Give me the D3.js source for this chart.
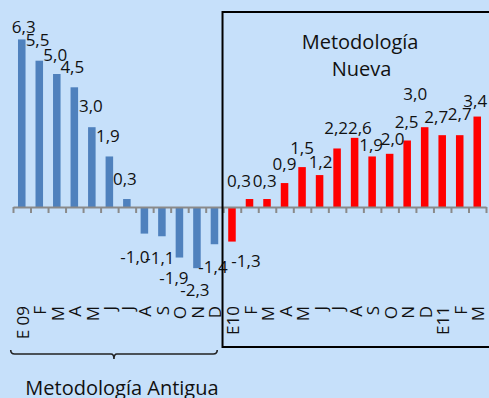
<!DOCTYPE html>
<html>
<head>
<meta charset="utf-8">
<script src="https://cdn.jsdelivr.net/npm/d3@7/dist/d3.min.js"></script>
<style>
  html, body { margin: 0; padding: 0; background: #c6e0fa; }
  svg { display: block; }
  text { font-family: "Open Sans", "Noto Sans", sans-serif; fill: #111; }
</style>
</head>
<body>
<svg id="chart" width="489" height="398"></svg>
<script>
// Monthly categories: Jan 2009 .. Mar 2011
const months = ["E 09","F","M","A","M","J","J","A","S","O","N","D",
                "E10","F","M","A","M","J","J","A","S","O","N","D",
                "E11","F","M"];
// Old methodology (2009)
const oldValues = [6.3, 5.5, 5.0, 4.5, 3.0, 1.9, 0.3, -1.0, -1.1, -1.9, -2.3, -1.4];
// New methodology (2010 - 2011)
const newValues = [-1.3, 0.3, 0.3, 0.9, 1.5, 1.2, 2.2, 2.6, 1.9, 2.0, 2.5, 3.0, 2.7, 2.7, 3.4];

const oldTitle = "Metodología Antigua";
const newTitle = ["Metodología", "Nueva"];

// Hand-placed nudges for the value labels [dx, dy], relative to the bar end
const labelNudge = [
  [2, -6], [-1.7, -14.6], [-1.5, -13.3], [-2, -14.6], [-1, -15], [-1.5, -14], [-2, -14],
  [-9.5, 29.7], [-2, 27.3], [-5.5, 26.7], [-2, 28.3], [-1.5, 28.4],
  [14, 25.7], [-10.5, -12.3], [-2.3, -12.3], [0, -13.4], [0, -13.4], [1, -7.4],
  [-1, -14], [5.3, -4], [-1, -5], [3, -9.3], [-0.5, -12.7], [-9.4, -27],
  [-6, -12.3], [0, -15], [-2, -10]
];

const rows = [
  ...oldValues.map(v => ({ v, series: "old" })),
  ...newValues.map(v => ({ v, series: "new" }))
].map((d, i) => ({ ...d, i, month: months[i] }));

const colors = { old: "#4f81bd", new: "#ff0000" };

const svg = d3.select("#chart");

const x = d3.scaleBand()
  .domain(rows.map(d => d.i))
  .range([13, 486])
  .paddingInner(0.57)
  .paddingOuter(0.285);

// Tick positions sit on the category boundaries
const xEdge = d3.scaleLinear().domain([0, rows.length]).range([13, 486]);

const y = d3.scaleLinear().domain([-4, 7.5]).range([313.4, 7.5]);

// Spanish number style: decimal comma, plain hyphen for negatives
const fmt = d3.formatLocale({
  decimal: ",", thousands: ".", grouping: [3], currency: ["", "€"], minus: "-"
}).format(".1f");

// Bars
svg.append("g")
  .selectAll("rect")
  .data(rows)
  .join("rect")
  .attr("x", d => x(d.i))
  .attr("width", x.bandwidth())
  .attr("y", d => y(Math.max(0, d.v)))
  .attr("height", d => Math.abs(y(d.v) - y(0)))
  .attr("fill", d => colors[d.series]);

// Horizontal axis line with tick marks
const axisG = svg.append("g")
  .attr("transform", `translate(0,${y(0)})`)
  .call(d3.axisBottom(xEdge).tickValues(d3.range(rows.length + 1))
    .tickSize(6).tickSizeOuter(0).tickFormat(""));
axisG.select(".domain").attr("stroke", "#8a8a8a").attr("stroke-width", 2);
axisG.selectAll(".tick line").attr("stroke", "#8a8a8a").attr("stroke-width", 2);

// Category labels, rotated
const labelG = svg.append("g")
  .attr("transform", `translate(0,${y(0)})`)
  .call(d3.axisBottom(x).tickSize(0).tickFormat(i => months[i]));
labelG.select(".domain").remove();
labelG.selectAll(".tick text")
  .attr("transform", "rotate(-90)")
  .attr("x", -99)
  .attr("y", 7)
  .attr("dy", 0)
  .attr("text-anchor", "end")
  .style("font-family", "'Open Sans', sans-serif")
  .style("font-size", "17px")
  .attr("fill", "#111");

// Value labels
svg.append("g")
  .selectAll("text")
  .data(rows)
  .join("text")
  .attr("x", d => x(d.i) + x.bandwidth() / 2 + labelNudge[d.i][0])
  .attr("y", d => y(d.v) + labelNudge[d.i][1])
  .attr("text-anchor", "middle")
  .style("font-size", "17px")
  .text(d => fmt(d.v));

// Frame around the new-methodology period
svg.append("rect")
  .attr("x", xEdge(oldValues.length) - 0.7)
  .attr("y", 12)
  .attr("width", 300)
  .attr("height", 335)
  .attr("fill", "none")
  .attr("stroke", "#000")
  .attr("stroke-width", 2);

const titleX = (xEdge(oldValues.length) + 497) / 2;
svg.append("text")
  .attr("text-anchor", "middle")
  .style("font-size", "20px")
  .selectAll("tspan")
  .data(newTitle)
  .join("tspan")
  .attr("x", (d, k) => titleX + k * 1.5)
  .attr("y", (d, k) => 49 + k * 27)
  .text(d => d);

// Brace under the old-methodology period
const bx0 = xEdge(0) - 2.3, bx1 = xEdge(oldValues.length) - 6, bm = (bx0 + bx1) / 2, by = 354;
svg.append("path")
  .attr("d", `M${bx0},${by - 4} Q${bx0},${by} ${bx0 + 4},${by} L${bm - 3},${by} Q${bm},${by} ${bm},${by + 5} Q${bm},${by} ${bm + 3},${by} L${bx1 - 4},${by} Q${bx1},${by} ${bx1},${by - 4}`)
  .attr("fill", "none")
  .attr("stroke", "#222")
  .attr("stroke-width", 1.6);

svg.append("text")
  .attr("x", bm + 8)
  .attr("y", 395)
  .attr("text-anchor", "middle")
  .style("font-size", "20px")
  .text(oldTitle);
</script>
</body>
</html>
